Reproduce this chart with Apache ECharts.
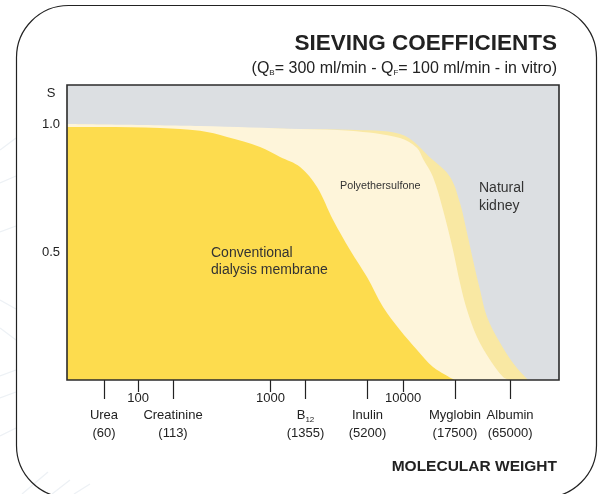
<!DOCTYPE html>
<html>
<head>
<meta charset="utf-8">
<script src="https://cdn.jsdelivr.net/npm/echarts@6/dist/echarts.min.js"></script>
<style>
html,body{margin:0;padding:0;background:#fff;}
#chart{width:602px;height:494px;}
</style>
</head>
<body>
<div id="chart"></div>
<script>
// x values are log10(molecular weight) positions as drawn in the figure
var decadeTicks = [2, 3, 4];
var decadeLabels = ['100', '1000', '10000'];
var moleculeTicks = [1.743, 2.264, 3.264, 3.732, 4.392, 4.808];
var moleculeNames = ['Urea', 'Creatinine', 'B12', 'Inulin', 'Myglobin', 'Albumin'];
var moleculeWeights = ['60', '113', '1355', '5200', '17500', '65000'];
var yTicks = [0.5, 1.0];

var conventionalX = [1.464, 1.713, 2.166, 2.468, 2.672, 2.921, 3.072, 3.223, 3.351, 3.472, 3.600, 3.728, 3.849, 3.977, 4.106, 4.226, 4.392];
var conventionalS = [0.988, 0.988, 0.984, 0.973, 0.949, 0.910, 0.871, 0.832, 0.754, 0.625, 0.508, 0.402, 0.285, 0.195, 0.117, 0.051, 0.0];

var pesX = [1.464, 2.468, 3.223, 3.600, 3.977, 4.106, 4.151, 4.226, 4.302, 4.377, 4.430, 4.483, 4.558, 4.657, 4.755, 4.808];
var pesS = [1.0, 0.992, 0.980, 0.973, 0.945, 0.906, 0.863, 0.793, 0.664, 0.508, 0.379, 0.273, 0.168, 0.078, 0.012, 0.0];

var kidneyX = [1.464, 3.223, 3.600, 3.977, 4.226, 4.355, 4.430, 4.483, 4.528, 4.581, 4.634, 4.732, 4.830, 4.936, 4.958];
var kidneyS = [1.0, 0.980, 0.977, 0.961, 0.859, 0.793, 0.691, 0.574, 0.469, 0.352, 0.246, 0.145, 0.066, 0.004, 0.0];

function zip(xs, ys) { return xs.map(function (x, i) { return [x, ys[i]]; }); }

var FONT = '"Liberation Sans", Arial, Helvetica, sans-serif';
var chart = echarts.init(document.getElementById('chart'), null, {renderer: 'canvas'});

var GL = 67, GT = 85, GW = 492, GH = 295;

var faint = [[0,150,16,138],[0,183,16,176],[0,232,16,226],[0,300,16,309],[0,328,16,340],[0,376,16,370],[0,398,16,392],[0,436,16,428],[22,494,48,472],[52,494,70,480],[74,494,90,484]];
var faintGraphics = faint.map(function (s) {
  return {type: 'line', z: -20, shape: {x1: s[0], y1: s[1], x2: s[2], y2: s[3]},
          style: {stroke: '#edf1f5', lineWidth: 1.3}};
});

var option = {
  backgroundColor: '#ffffff',
  animation: false,
  textStyle: {fontFamily: FONT},
  title: [
    {text: 'SIEVING COEFFICIENTS', right: 45, top: 32, padding: 0,
     textStyle: {fontFamily: FONT, fontSize: 22.5, fontWeight: 'bold', color: '#222'}},
    {text: '(Q{s|B}= 300 ml/min - Q{s|F}= 100 ml/min - in vitro)', right: 45, top: 61, padding: 0,
     textStyle: {fontFamily: FONT, fontSize: 16, fontWeight: 'normal', color: '#222',
       rich: {s: {fontSize: 8, fontFamily: FONT, color: '#222', verticalAlign: 'bottom', padding: [6, 0, 0, 0]}}}},
    {text: 'MOLECULAR WEIGHT', right: 45, top: 459, padding: 0,
     textStyle: {fontFamily: FONT, fontSize: 15.5, fontWeight: 'bold', color: '#222'}}
  ],
  grid: {left: GL, top: GT, width: GW, height: GH, show: true, backgroundColor: '#dcdfe2', borderWidth: 0},
  xAxis: [
    {type: 'value', min: 1.464, max: 5.177, position: 'bottom',
     axisLine: {show: false}, splitLine: {show: false},
     axisTick: {show: true, length: 12, customValues: decadeTicks, lineStyle: {color: '#222', width: 1.2}},
     axisLabel: {show: true, customValues: decadeTicks, margin: 12, fontSize: 13, color: '#222', fontFamily: FONT,
       formatter: function (v) { var i = decadeTicks.indexOf(v); return i >= 0 ? decadeLabels[i] : ''; }}},
    {type: 'value', min: 1.464, max: 5.177, position: 'bottom',
     axisLine: {show: false}, splitLine: {show: false},
     axisTick: {show: true, length: 19, customValues: moleculeTicks, lineStyle: {color: '#222', width: 1.2}},
     axisLabel: {show: true, customValues: moleculeTicks, margin: 26, fontSize: 13, lineHeight: 18, color: '#222', fontFamily: FONT,
       rich: {n: {fontSize: 13, color: '#222', fontFamily: FONT, lineHeight: 18},
              sub: {fontSize: 8, color: '#222', fontFamily: FONT, lineHeight: 18, verticalAlign: 'bottom'}},
       formatter: function (v) {
         var i = moleculeTicks.indexOf(v);
         if (i < 0) return '';
         var nm = moleculeNames[i];
         if (nm === 'B12') return '{n|B}{sub|12}\n{n|(' + moleculeWeights[i] + ')}';
         return '{n|' + nm + '}\n{n|(' + moleculeWeights[i] + ')}';
       }}}
  ],
  yAxis: {type: 'value', min: 0, max: 1.152,
    axisLine: {show: false}, axisTick: {show: false}, splitLine: {show: false},
    axisLabel: {customValues: yTicks, margin: 7, fontSize: 13, color: '#222', fontFamily: FONT,
      formatter: function (v) { return v.toFixed(1); }}},
  series: [
    {name: 'Natural kidney', type: 'line', xAxisIndex: 0, data: zip(kidneyX, kidneyS), smooth: 0.35,
     showSymbol: false, lineStyle: {width: 0}, areaStyle: {color: '#f9e8a3', opacity: 1}, z: 2},
    {name: 'Polyethersulfone', type: 'line', xAxisIndex: 0, data: zip(pesX, pesS), smooth: 0.35,
     showSymbol: false, lineStyle: {width: 0}, areaStyle: {color: '#fef5da', opacity: 1}, z: 3},
    {name: 'Conventional dialysis membrane', type: 'line', xAxisIndex: 0, data: zip(conventionalX, conventionalS), smooth: 0.35,
     showSymbol: false, lineStyle: {width: 0}, areaStyle: {color: '#fddc4e', opacity: 1}, z: 4}
  ],
  graphic: faintGraphics.concat([
    {type: 'rect', shape: {x: 16.5, y: 5.5, width: 580, height: 492, r: 52}, z: -10,
     style: {fill: 'none', stroke: '#222', lineWidth: 1.2}},
    {type: 'rect', shape: {x: GL, y: GT, width: GW, height: GH}, z: 100,
     style: {fill: 'none', stroke: '#2b2b2b', lineWidth: 1.6}},
    {type: 'text', x: 51, y: 93, z: 100,
     style: {text: 'S', fontSize: 13, fontFamily: FONT, fill: '#222', align: 'center', verticalAlign: 'middle'}},
    {type: 'text', x: 211, y: 262, z: 100,
     style: {text: 'Conventional\ndialysis membrane', fontSize: 14, lineHeight: 17, fontFamily: FONT, fill: '#333', align: 'left', verticalAlign: 'middle'}},
    {type: 'text', x: 340, y: 186, z: 100,
     style: {text: 'Polyethersulfone', fontSize: 10.8, fontFamily: FONT, fill: '#333', align: 'left', verticalAlign: 'middle'}},
    {type: 'text', x: 479, y: 197, z: 100,
     style: {text: 'Natural\nkidney', fontSize: 14, lineHeight: 18, fontFamily: FONT, fill: '#333', align: 'left', verticalAlign: 'middle'}}
  ])
};
chart.setOption(option);
</script>
</body>
</html>
